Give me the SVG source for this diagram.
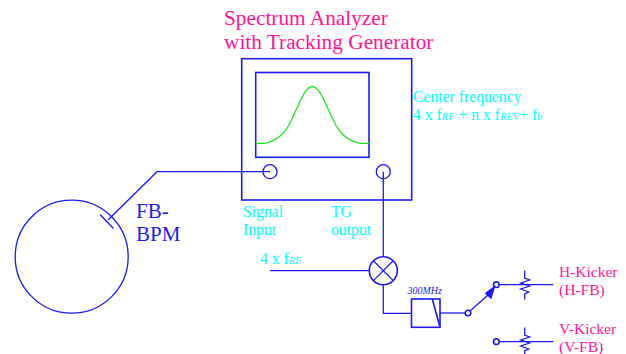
<svg xmlns="http://www.w3.org/2000/svg" width="626" height="354" viewBox="0 0 626 354">
<style>
text{font-family:"Liberation Serif","Times New Roman",serif}
.l{fill:none;stroke:#1c1cf0;stroke-width:1.3}
.b{fill:none;stroke:#1c1cf0;stroke-width:1.6}
.p{fill:#ff1493;font-size:21.300px}
.k{fill:#ff1493;font-size:15.500px}
.c{fill:#00ffff;font-size:15.700px}
.s{font-size:10.500px;font-style:italic}
</style>
<defs><path id="res" class="l" d="M0 -14.500V-7L5 -5L-4 -2L5 1L-4 4L4 7L0 9V14.500"/></defs>
<rect width="626" height="354" fill="#fff"/>
<g id="connectors">
<path class="l" d="M108 220L157 171.700H270"/>
<path class="l" d="M383.300 171.700V256.500"/>
<path class="l" d="M270 270.700H369"/>
<path class="l" d="M383.300 285V313.300H411.500"/>
<path class="l" d="M440 313H465"/>
<path class="l" d="M470 311L488 295"/>
<path d="M495.700 285L484.700 293.200L491.300 299.200Z" fill="#1c1cf0"/>
<path class="l" d="M499.300 284.700H553.300"/>
<path class="l" d="M499.300 341.700H553.300"/>
</g>
<g id="ring"><circle class="l" cx="71.700" cy="256.700" r="56.500"/><path class="l" d="M100 214.500L113.500 228.500"/></g>
<g id="analyzer">
<rect class="b" x="241.700" y="58.700" width="170" height="141.300"/>
<rect class="b" x="255.700" y="72.500" width="113.300" height="84.800"/>
<path d="M255.700 143.300L264.300 143.300L268.300 142.300L272.300 140.900L276.300 138.800L280.300 135.800L284.300 131.800L288.300 126L292.300 118.300L296.300 109.500L300.300 100.800L304.300 93.200L308.300 88.100L312.300 86.300L316.300 88.100L320.300 93.200L324.300 100.800L328.300 109.500L332.300 118.300L336.300 126L340.300 131.800L344.300 135.800L348.300 138.800L352.300 140.900L356.300 142.300L360.300 143.300L369 143.300" fill="none" stroke="#1ee61e" stroke-width="1.300" stroke-linejoin="round"/>
<circle class="l" cx="270" cy="171.700" r="7"/>
<circle class="l" cx="383.300" cy="171.700" r="7"/>
</g>
<g id="mixer"><circle class="b" cx="383.300" cy="270.700" r="14"/><path class="l" d="M373.400 260.800L393.200 280.600M373.400 280.600L393.200 260.800"/></g>
<g id="filter"><rect class="b" x="411.500" y="299" width="28.500" height="28.300"/><path class="b" d="M432.300 299L440 327.300"/></g>
<g id="switch"><circle class="b" cx="468" cy="313" r="2.800"/><circle class="b" cx="496.300" cy="284.700" r="2.800"/><circle class="b" cx="496.300" cy="341.700" r="2.800"/></g>
<g id="h-res"><use href="#res" x="524.700" y="285"/></g>
<g id="v-res"><use href="#res" x="524.700" y="342"/></g>
<text class="p" x="224" y="25">Spectrum Analyzer</text>
<text class="p" x="224" y="48.500">with Tracking Generator</text>
<text class="c" x="413" y="101.500">Center frequency</text>
<text class="c" x="413" y="119.500">4 x f<tspan class="s">RF</tspan> + n x f<tspan class="s">REV</tspan>+ f<tspan font-size="10.500">b</tspan></text>
<text x="136" y="218" fill="#1c1cf0" font-size="21">FB-</text>
<text x="136" y="241" fill="#1c1cf0" font-size="21">BPM</text>
<text class="c" x="243" y="217">Signal</text>
<text class="c" x="243" y="235">Input</text>
<text class="c" x="331" y="217">TG</text>
<text class="c" x="331" y="235">output</text>
<text class="c" x="260" y="264">4 x f<tspan class="s">RF</tspan></text>
<text x="407.500" y="293.500" fill="#1c1cf0" font-size="10" font-style="italic">300MHz</text>
<text class="k" x="559" y="277">H-Kicker</text>
<text class="k" x="559" y="295">(H-FB)</text>
<text class="k" x="559" y="334">V-Kicker</text>
<text class="k" x="559" y="352">(V-FB)</text>
</svg>
